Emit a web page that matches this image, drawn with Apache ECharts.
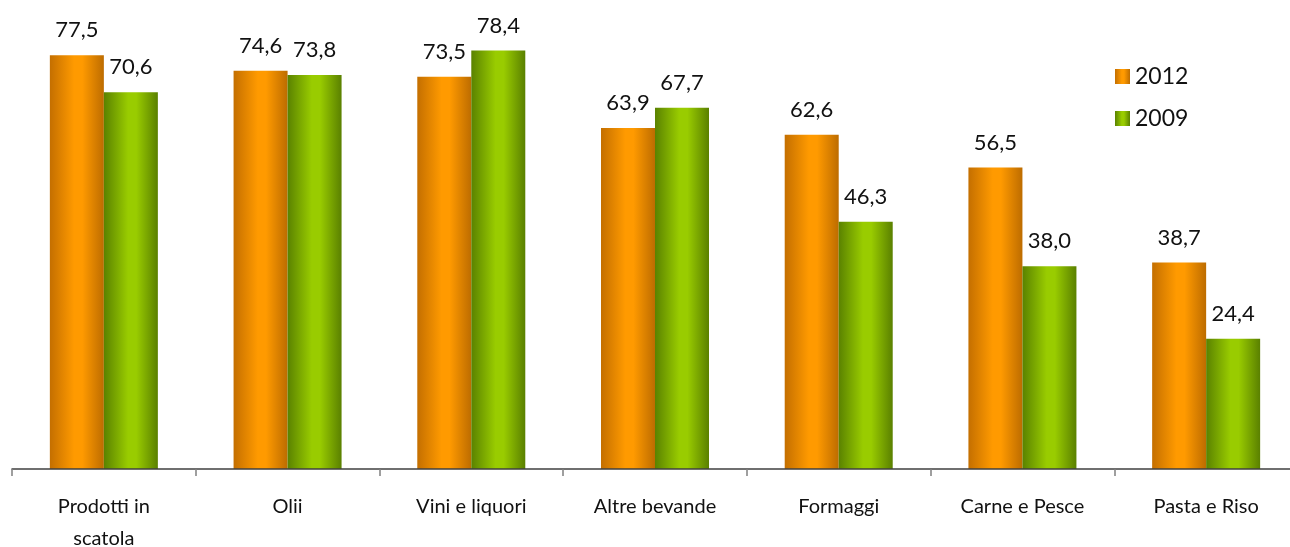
<!DOCTYPE html>
<html>
<head>
<meta charset="utf-8">
<script src="https://cdn.jsdelivr.net/npm/echarts@6/dist/echarts.min.js"></script>
<style>
  html, body { margin: 0; padding: 0; background: #fff; }
  #chart { width: 1290px; height: 547px; }
</style>
</head>
<body>
<div id="chart"></div>
<script>
const categories = ['Prodotti in\nscatola', 'Olii', 'Vini e liquori', 'Altre bevande', 'Formaggi', 'Carne e Pesce', 'Pasta e Riso']
const values2012 = [77.5, 74.6, 73.5, 63.9, 62.6, 56.5, 38.7]
const values2009 = [70.6, 73.8, 78.4, 67.7, 46.3, 38.0, 24.4]

const FONT = 'Lato'

function barGradient(edgeL, mid, edgeR) {
  return new echarts.graphic.LinearGradient(0, 0, 1, 0, [
    { offset: 0, color: edgeL },
    { offset: 0.45, color: mid },
    { offset: 0.6, color: mid },
    { offset: 1, color: edgeR }
  ])
}

// numeri con la virgola decimale
function fmt(p) {
  return p.value.toFixed(1).replace('.', ',')
}

const chart = echarts.init(document.getElementById('chart'))
chart.setOption({
  animation: false,
  textStyle: { fontFamily: FONT },
  legend: {
    orient: 'vertical',
    left: 1110,
    top: 60,
    itemWidth: 15,
    itemHeight: 15,
    itemGap: 19,
    icon: 'rect',
    textStyle: { fontSize: 23, color: '#111', fontFamily: FONT }
  },
  grid: {
    left: 12,
    right: -8,
    top: 42,
    bottom: 78,
    containLabel: false,
    outerBoundsMode: 'none'
  },
  xAxis: {
    type: 'category',
    data: categories,
    axisLine: { lineStyle: { color: '#404040', width: 1.5 } },
    axisTick: { show: true, length: 7, lineStyle: { color: '#808080', width: 1.5 } },
    axisLabel: {
      color: '#111',
      fontSize: 20,
      margin: 22,
      lineHeight: 32,
      fontFamily: FONT
    },
    z: 10
  },
  yAxis: {
    type: 'value',
    min: 0,
    max: 80,
    show: false,
    splitLine: { show: false }
  },
  series: [
    {
      name: '2012',
      type: 'bar',
      data: values2012,
      barWidth: 54,
      barGap: '0%',
      itemStyle: { color: barGradient('#c46f00', '#ff9a00', '#bd6c00') },
      label: {
        show: true,
        position: 'top',
        distance: 14,
        fontSize: 22,
        color: '#111',
        formatter: fmt
      }
    },
    {
      name: '2009',
      type: 'bar',
      data: values2009,
      barWidth: 54,
      barGap: '0%',
      itemStyle: { color: barGradient('#5a8200', '#99cc00', '#5a8000') },
      label: {
        show: true,
        position: 'top',
        distance: 14,
        fontSize: 22,
        color: '#111',
        formatter: fmt
      }
    }
  ]
})
</script>
</body>
</html>
